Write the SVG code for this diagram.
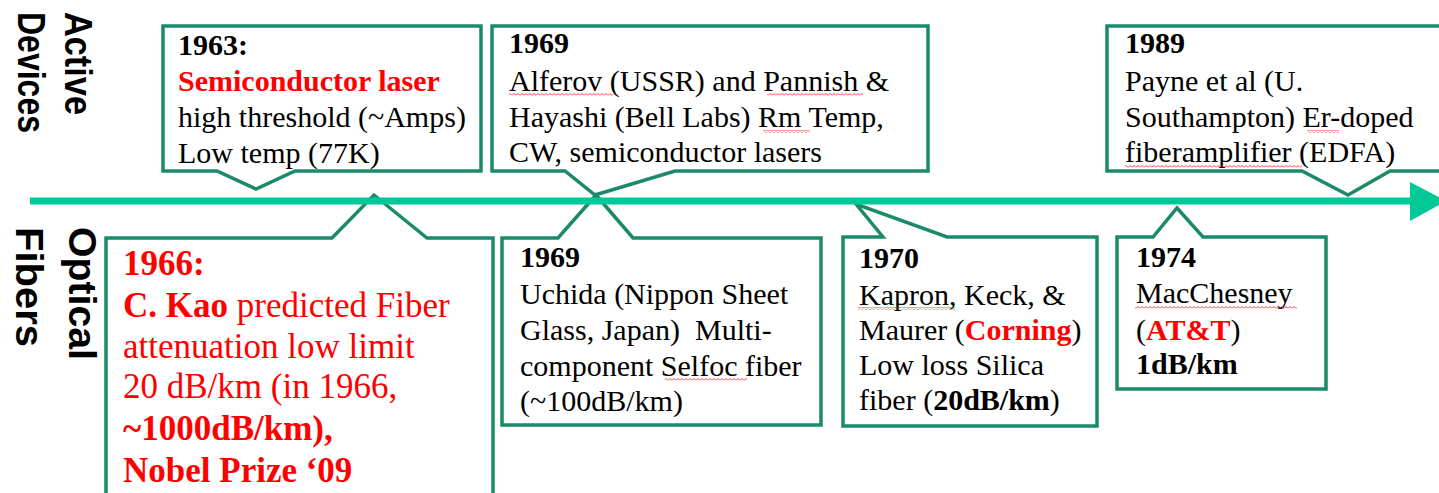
<svg xmlns="http://www.w3.org/2000/svg" width="1439" height="493" viewBox="0 0 1439 493">
<defs>
<style>
.t { font-family: "Liberation Serif", "Times New Roman", serif; font-size: 30px; fill: #000; white-space: pre; }
.big { font-size: 35px; }
.b { font-weight: bold; }
.r { fill: #ff0000; }
.lab { font-family: "Liberation Sans", Arial, sans-serif; font-weight: bold; font-size: 38px; fill: #000; }
.box { fill: #fff; stroke: #1a8a6a; stroke-width: 3.5; stroke-linejoin: miter; }
.axis { stroke: #00c896; stroke-width: 7; fill: none; }
.head { fill: #00c896; }
.wavy { fill: url(#wv); }
</style>
<pattern id="wv" x="0" y="0" width="4" height="3" patternUnits="userSpaceOnUse">
<path d="M0 2.5 L2 0.5 L4 2.5" fill="none" stroke="#ff2020" stroke-width="0.9"/>
</pattern>
</defs>
<rect width="1439" height="493" fill="#fff"/>

<g id="label-active">
<text class="lab" transform="translate(65,12) rotate(90)" x="0" y="0" textLength="103" lengthAdjust="spacingAndGlyphs">Active</text>
<text class="lab" transform="translate(65,12) rotate(90)" x="0" y="47" textLength="121" lengthAdjust="spacingAndGlyphs">Devices</text>
</g>
<g id="label-optical">
<text class="lab" transform="translate(69,227) rotate(90)" x="0" y="0" textLength="133" lengthAdjust="spacingAndGlyphs">Optical</text>
<text class="lab" transform="translate(69,227) rotate(90)" x="0" y="53" textLength="120" lengthAdjust="spacingAndGlyphs">Fibers</text>
</g>

<g id="n1963">
<path class="box" d="M163,26 H481 V171 H295 L256,189 L217,171 H163 Z"/>
<text class="t b" x="178" y="55">1963:</text>
<text class="t b r" x="178" y="91">Semiconductor laser</text>
<text class="t" x="178" y="127">high threshold (~Amps)</text>
<text class="t" x="178" y="163">Low temp (77K)</text>
</g>

<g id="n1969a">
<path class="box" d="M492,26 H928 V171 H675 L595,195 L565,171 H492 Z"/>
<text class="t b" x="509" y="53">1969</text>
<text class="t" x="509" y="91">Alferov (USSR) and Pannish &amp;</text>
<text class="t" x="509" y="127">Hayashi (Bell Labs) Rm Temp,</text>
<text class="t" x="509" y="162">CW, semiconductor lasers</text>
<rect class="wavy" x="509" y="93" width="104" height="3"/>
<rect class="wavy" x="767" y="93" width="96" height="3"/>
<rect class="wavy" x="763" y="130" width="47" height="3"/>
</g>

<g id="n1989">
<path class="box" d="M1107,26 H1450 V171 H1390 L1348,195 L1302,171 H1107 Z"/>
<text class="t b" x="1125" y="53">1989</text>
<text class="t" x="1125" y="91">Payne et al (U.</text>
<text class="t" x="1125" y="127">Southampton) Er-doped</text>
<text class="t" x="1125" y="162">fiberamplifier (EDFA)</text>
<rect class="wavy" x="1307" y="130" width="32" height="3"/>
<rect class="wavy" x="1125" y="165" width="177" height="3"/>
</g>

<g id="n1966">
<path class="box" d="M106,238 H332 L374,195 L427,238 H493 V505 H106 Z"/>
<text class="t big b r" x="123" y="275">1966:</text>
<text class="t big r" x="123" y="317"><tspan class="b">C. Kao</tspan> predicted Fiber</text>
<text class="t big r" x="123" y="358">attenuation low limit</text>
<text class="t big r" x="123" y="398">20 dB/km (in 1966,</text>
<text class="t big b r" x="123" y="440">~1000dB/km),</text>
<text class="t big b r" x="123" y="482">Nobel Prize ‘09</text>
</g>

<g id="n1969b">
<path class="box" d="M502,238 H558 L596,195 L633,238 H821 V425 H502 Z"/>
<text class="t b" x="520" y="267">1969</text>
<text class="t" x="520" y="304">Uchida (Nippon Sheet</text>
<text class="t" x="520" y="340">Glass, Japan)  Multi-</text>
<text class="t" x="520" y="376">component Selfoc fiber</text>
<text class="t" x="520" y="411">(~100dB/km)</text>
<rect class="wavy" x="665" y="378" width="82" height="3"/>
</g>

<g id="n1970">
<path class="box" d="M843,237 H883 L856,204 L947,237 H1097 V426 H843 Z"/>
<text class="t b" x="859" y="268">1970</text>
<text class="t" x="859" y="305">Kapron, Keck, &amp;</text>
<text class="t" x="859" y="340">Maurer (<tspan class="b r">Corning</tspan>)</text>
<text class="t" x="859" y="375">Low loss Silica</text>
<text class="t" x="859" y="410">fiber (<tspan class="b">20dB/km</tspan>)</text>
<rect class="wavy" x="858" y="307" width="97" height="3"/>
</g>

<g id="n1974">
<path class="box" d="M1117,237 H1153 L1177,208 L1203,237 H1326 V389 H1117 Z"/>
<text class="t b" x="1136" y="267">1974</text>
<text class="t" x="1136" y="303">MacChesney</text>
<text class="t" x="1136" y="340">(<tspan class="b r">AT&amp;T</tspan>)</text>
<text class="t b" x="1136" y="374">1dB/km</text>
<rect class="wavy" x="1135" y="306" width="162" height="3"/>
</g>

<g id="connectors">
<line class="axis" x1="30" y1="201" x2="1414" y2="201"/>
<polygon class="head" points="1410,182 1446,201 1410,221"/>
</g>
</svg>
